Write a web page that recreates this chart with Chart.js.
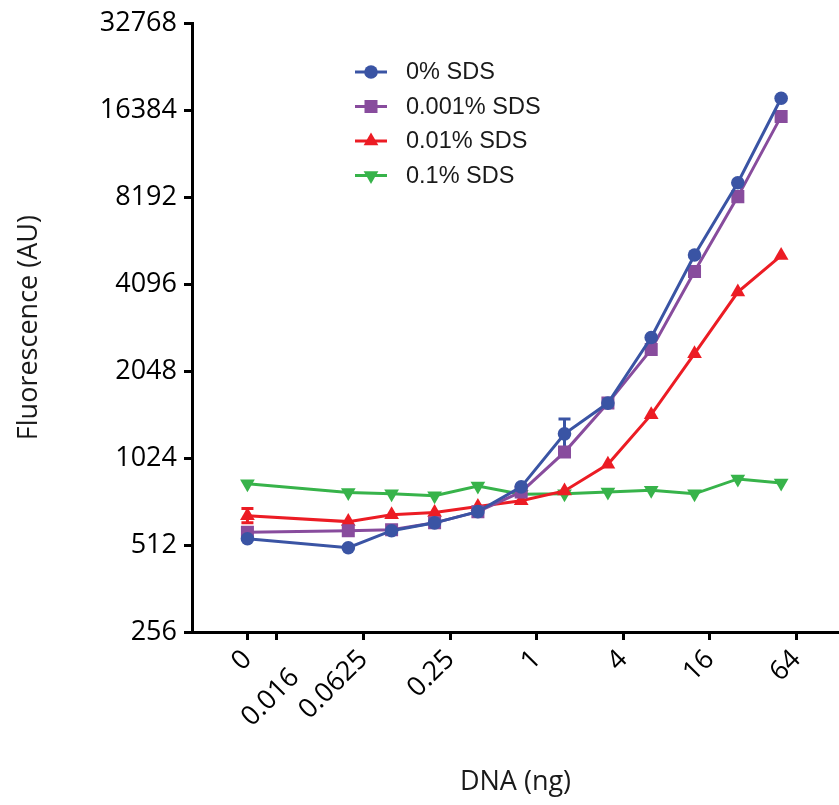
<!DOCTYPE html>
<html>
<head>
<meta charset="utf-8">
<script src="https://cdn.jsdelivr.net/npm/chart.js@4"></script>
<style>
  html, body { margin: 0; padding: 0; background: #fff; }
  #chart { display: block; }
</style>
</head>
<body>
<canvas id="chart" width="839" height="805"></canvas>
<script>
// DNA amounts (ng); the 0 point sits left of the first tick
const dna = [0, 0.049, 0.098, 0.195, 0.39, 0.78, 1.56, 3.125, 6.25, 12.5, 25, 50];
const sds0 = [538, 501, 574, 611, 668, 814, 1242, 1587, 2677, 5166, 9190, 18020];
const sds0001 = [567, 574, 578, 611, 668, 782, 1074, 1587, 2434, 4529, 8226, 15590];
const sds001 = [647, 617, 652, 664, 696, 729, 788, 974, 1447, 2353, 3845, 5141];
const sds01 = [835, 778, 770, 758, 820, 767, 770, 782, 793, 770, 867, 840];
// error bars: [point index, low, high]
const sds0Err = [[6, 1108, 1398]];
const sds001Err = [[0, 611, 685]];

const seriesNames = ['0% SDS', '0.001% SDS', '0.01% SDS', '0.1% SDS'];
const xTickLabels = ['0', '0.016', '0.0625', '0.25', '1', '4', '16', '64'];
const xTickValues = [0, 0.015625, 0.0625, 0.25, 1, 4, 16, 64];
const yTicks = [256, 512, 1024, 2048, 4096, 8192, 16384, 32768];

const ZERO_X = -6.68;   // where "0" goes on the log2 axis
function xPos(v) { return v === 0 ? ZERO_X : Math.log2(v); }
function pts(vals) { return dna.map(function(d, i) { return {x: xPos(d), y: vals[i]}; }); }

const FONT = '"Open Sans", "DejaVu Sans", sans-serif';

function mkSet(label, vals, color, style, radius, rot, err) {
  return {
    label: label,
    data: pts(vals),
    borderColor: color,
    backgroundColor: color,
    borderWidth: 3,
    pointStyle: style,
    pointRadius: radius,
    pointRotation: rot,
    pointBorderWidth: 0,
    pointBackgroundColor: color,
    tension: 0,
    errors: err || []
  };
}

const datasets = [
  mkSet(seriesNames[0], sds0, '#3a54a4', 'circle', 6.8, 0, sds0Err),
  mkSet(seriesNames[1], sds0001, '#884c9d', 'rect', 9.2, 0),
  mkSet(seriesNames[2], sds001, '#ec1c24', 'triangle', 8.5, 0, sds001Err),
  mkSet(seriesNames[3], sds01, '#37b34a', 'triangle', 8.5, 180)
];

function marker(ctx, style, r, rot, x, y, color) {
  ctx.save();
  ctx.fillStyle = color;
  ctx.beginPath();
  if (style === 'circle') {
    ctx.arc(x, y, r, 0, Math.PI * 2);
  } else if (style === 'rect') {
    const s = Math.SQRT1_2 * r;
    ctx.rect(x - s, y - s, 2 * s, 2 * s);
  } else {
    let a = rot * Math.PI / 180;
    for (let k = 0; k < 3; k++) {
      const px = x + Math.sin(a) * r, py = y - Math.cos(a) * r;
      if (k === 0) ctx.moveTo(px, py); else ctx.lineTo(px, py);
      a += Math.PI * 2 / 3;
    }
    ctx.closePath();
  }
  ctx.fill();
  ctx.restore();
}

const errorBars = {
  id: 'errorBars',
  beforeDatasetsDraw: function(chart) {
    const ctx = chart.ctx, xs = chart.scales.x, ys = chart.scales.y;
    chart.data.datasets.forEach(function(ds) {
      ds.errors.forEach(function(e) {
        const px = xs.getPixelForValue(ds.data[e[0]].x);
        const lo = ys.getPixelForValue(e[1]), hi = ys.getPixelForValue(e[2]);
        ctx.save();
        ctx.strokeStyle = ds.borderColor;
        ctx.lineWidth = 3;
        ctx.beginPath();
        ctx.moveTo(px, lo); ctx.lineTo(px, hi);
        ctx.moveTo(px - 6, lo); ctx.lineTo(px + 6, lo);
        ctx.moveTo(px - 6, hi); ctx.lineTo(px + 6, hi);
        ctx.stroke();
        ctx.restore();
      });
    });
  }
};

const lineLegend = {
  id: 'lineLegend',
  afterDraw: function(chart) {
    const ctx = chart.ctx;
    chart.data.datasets.forEach(function(ds, i) {
      const y = 72 + i * 34.5;
      ctx.save();
      ctx.strokeStyle = ds.borderColor;
      ctx.lineWidth = 3;
      ctx.beginPath();
      ctx.moveTo(355, y); ctx.lineTo(387, y);
      ctx.stroke();
      ctx.restore();
      marker(ctx, ds.pointStyle, ds.pointRadius, ds.pointRotation, 371, y, ds.borderColor);
      ctx.save();
      ctx.fillStyle = '#1a1a1a';
      ctx.font = '23.5px "Liberation Sans", Arial, sans-serif';
      ctx.textBaseline = 'middle';
      ctx.fillText(ds.label, 406, y + 1);
      ctx.restore();
    });
  }
};

new Chart(document.getElementById('chart'), {
  type: 'line',
  data: { datasets: datasets },
  plugins: [errorBars, lineLegend],
  options: {
    responsive: false,
    devicePixelRatio: 1,
    animation: false,
    layout: { autoPadding: false, padding: { top: 20, right: 0, bottom: 0, left: 0 } },
    plugins: { legend: { display: false }, tooltip: { enabled: false } },
    scales: {
      x: {
        type: 'linear',
        min: -7.96,
        max: 6.98,
        afterBuildTicks: function(axis) {
          axis.ticks = xTickValues.map(function(v) { return {value: xPos(v)}; });
        },
        afterFit: function(scale) {
          scale.height = 173;
          scale.paddingLeft = 0;
          scale.paddingRight = 0;
        },
        ticks: {
          autoSkip: false,
          minRotation: 45,
          maxRotation: 45,
          padding: 6,
          color: '#000',
          font: { family: FONT, size: 27, lineHeight: 0.95 },
          // second label is pushed down one line so it clears "0"
          callback: function(v, i) { return i === 1 ? ['', xTickLabels[i]] : xTickLabels[i]; }
        },
        grid: { drawOnChartArea: false, drawTicks: true, tickLength: 8, color: '#000', lineWidth: 3 },
        border: { display: true, color: '#000', width: 3 },
        title: {
          display: true,
          text: 'DNA (ng)',
          color: '#1a1a1a',
          font: { family: FONT, size: 27 },
          padding: { top: 0, bottom: 6 }
        }
      },
      y: {
        type: 'logarithmic',
        min: 256,
        max: 32768,
        afterBuildTicks: function(axis) {
          axis.ticks = yTicks.map(function(v) { return {value: v}; });
        },
        afterFit: function(scale) { scale.width = 192; },
        ticks: {
          autoSkip: false,
          padding: 7,
          color: '#000',
          font: { family: FONT, size: 27 },
          callback: function(v) { return String(v); }
        },
        grid: { drawOnChartArea: false, drawTicks: true, tickLength: 8, color: '#000', lineWidth: 3 },
        border: { display: true, color: '#000', width: 3 },
        title: {
          display: true,
          text: 'Fluorescence (AU)',
          color: '#1a1a1a',
          font: { family: FONT, size: 27 },
          padding: { top: 13, bottom: 0 }
        }
      }
    }
  }
});
</script>
</body>
</html>
